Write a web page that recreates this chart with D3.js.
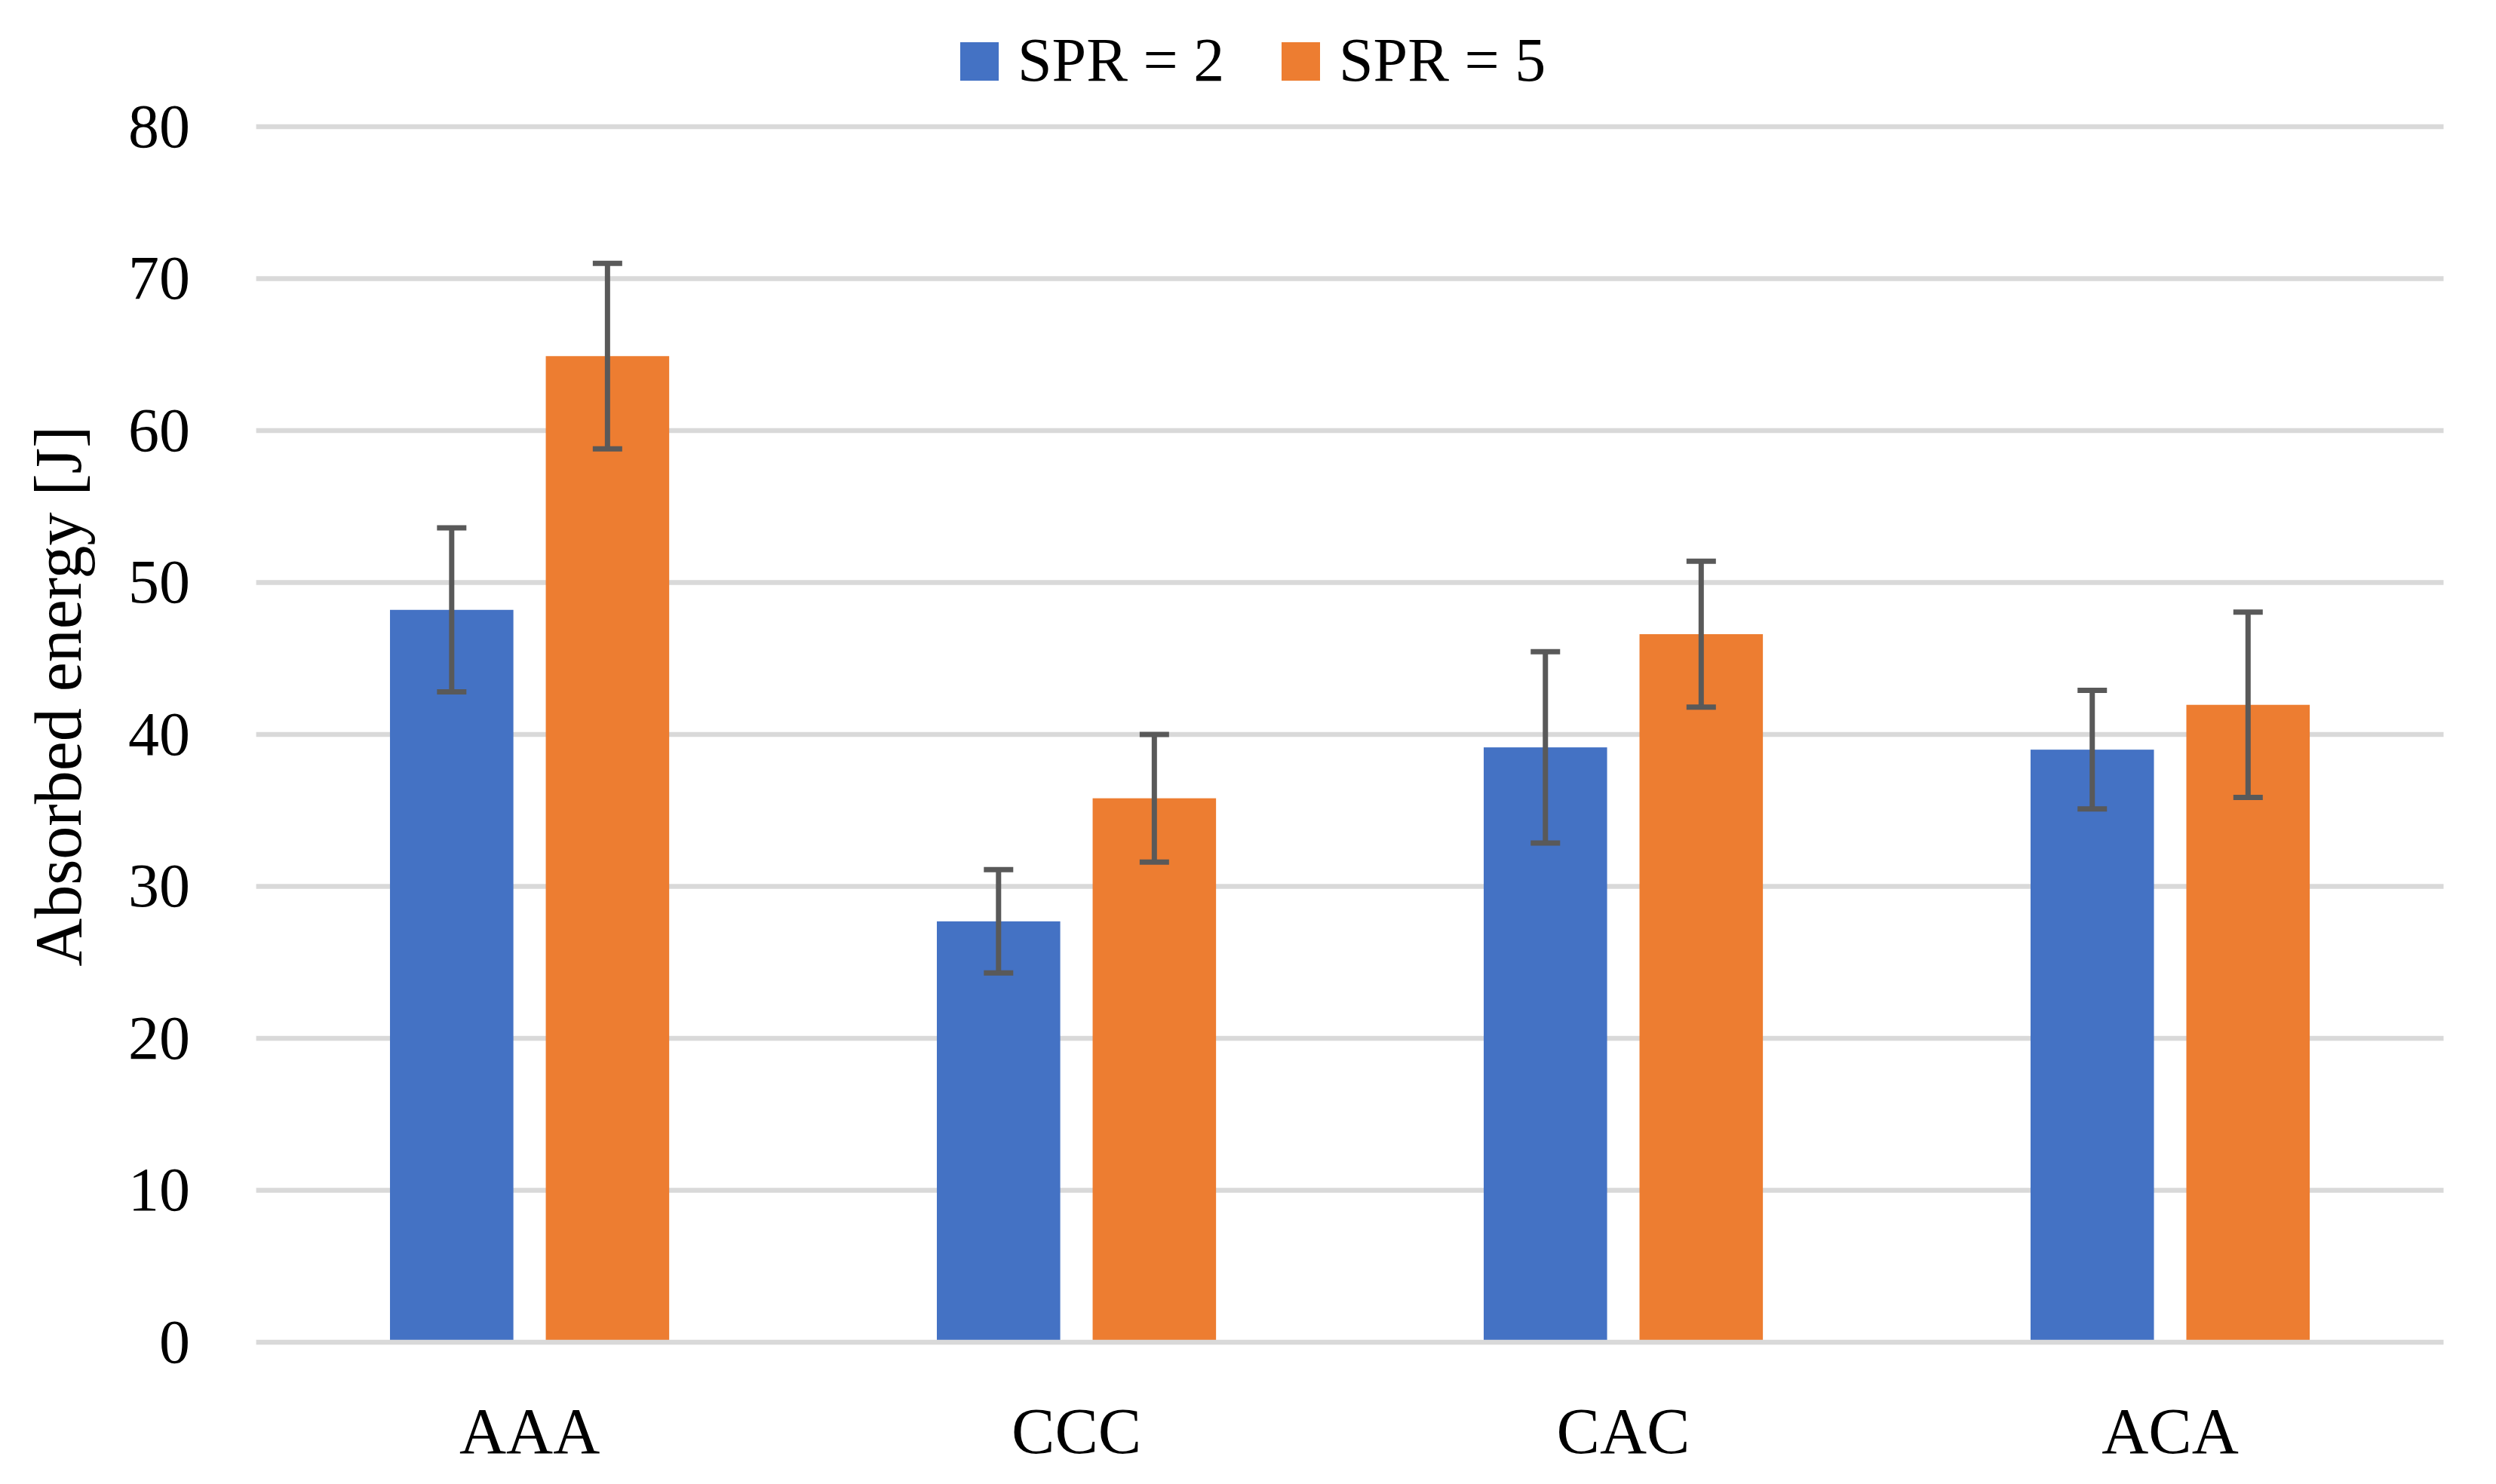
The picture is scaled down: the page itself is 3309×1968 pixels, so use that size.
<!DOCTYPE html>
<html>
<head>
<meta charset="utf-8">
<script src="https://cdn.jsdelivr.net/npm/d3@7"></script>
<style>
  html, body { margin: 0; padding: 0; background: #ffffff; }
  svg { display: block; }
  text { font-family: "Palatino Linotype", "Book Antiqua", Palatino, "Liberation Serif", serif; fill: #000; }
</style>
</head>
<body>
<svg id="chart" width="3309" height="1968"></svg>
<script>
const categories = ["AAA", "CCC", "CAC", "ACA"];
const seriesNames = ["SPR = 2", "SPR = 5"];
const spr2Values = [48.2, 27.7, 39.15, 39.0];
const spr2Errors = [5.4, 3.4, 6.3, 3.9];
const spr5Values = [64.9, 35.8, 46.6, 41.95];
const spr5Errors = [6.1, 4.2, 4.8, 6.1];
const yTicks = [0, 10, 20, 30, 40, 50, 60, 70, 80];
const yTitle = "Absorbed energy [J]";
const colors = ["#4472C4", "#ED7D31"];

(function () {
const W = 3309, H = 1968;
const plotLeft = 339.6, plotRight = 3239.5, plotTop = 168, plotBottom = 1780;
const fontFam = "\"Palatino Linotype\", \"Book Antiqua\", Palatino, \"Liberation Serif\", serif";

const svg = d3.select("#chart");
svg.append("rect").attr("width", W).attr("height", H).attr("fill", "#ffffff");

const y = d3.scaleLinear().domain([0, 80]).range([plotBottom, plotTop]);
const x0 = d3.scaleBand().domain(categories).range([plotLeft, plotRight]).padding(0);
const x1 = d3.scaleBand().domain(seriesNames).range([0, x0.bandwidth()])
  .paddingInner(0.208).paddingOuter(0.859);

const data = categories.map((c, i) => ({
  cat: c,
  vals: [
    { s: seriesNames[0], v: spr2Values[i], e: spr2Errors[i], c: colors[0] },
    { s: seriesNames[1], v: spr5Values[i], e: spr5Errors[i], c: colors[1] }
  ]
}));

// gridlines (non-zero)
svg.append("g").selectAll("line").data(yTicks.filter(t => t !== 0)).join("line")
  .attr("x1", plotLeft).attr("x2", plotRight)
  .attr("y1", d => y(d)).attr("y2", d => y(d))
  .attr("stroke", "#D9D9D9").attr("stroke-width", 6.5);

// bars
const groups = svg.append("g").selectAll("g").data(data).join("g")
  .attr("transform", d => `translate(${x0(d.cat)},0)`);
groups.selectAll("rect").data(d => d.vals).join("rect")
  .attr("x", d => x1(d.s)).attr("width", x1.bandwidth())
  .attr("y", d => y(d.v)).attr("height", d => y(0) - y(d.v))
  .attr("fill", d => d.c);

// zero line
svg.append("line").attr("x1", plotLeft).attr("x2", plotRight)
  .attr("y1", y(0)).attr("y2", y(0))
  .attr("stroke", "#D9D9D9").attr("stroke-width", 6.5);

// error bars
const capW = 39, errStroke = "#595959", errW = 7;
const cx = d => x1(d.s) + x1.bandwidth() / 2;
const eb = groups.selectAll("g.err").data(d => d.vals).join("g").attr("class", "err");
eb.append("line")
  .attr("x1", cx).attr("x2", cx)
  .attr("y1", d => y(d.v + d.e)).attr("y2", d => y(d.v - d.e))
  .attr("stroke", errStroke).attr("stroke-width", errW);
eb.append("line")
  .attr("x1", d => cx(d) - capW / 2).attr("x2", d => cx(d) + capW / 2)
  .attr("y1", d => y(d.v + d.e)).attr("y2", d => y(d.v + d.e))
  .attr("stroke", errStroke).attr("stroke-width", errW);
eb.append("line")
  .attr("x1", d => cx(d) - capW / 2).attr("x2", d => cx(d) + capW / 2)
  .attr("y1", d => y(d.v - d.e)).attr("y2", d => y(d.v - d.e))
  .attr("stroke", errStroke).attr("stroke-width", errW);

// y axis tick labels
const yAxis = d3.axisLeft(y).tickValues(yTicks).tickSize(0).tickPadding(0).tickFormat(d3.format("d"));
const yg = svg.append("g").attr("transform", `translate(252,0)`).call(yAxis);
yg.select(".domain").remove();
yg.selectAll("text")
  .attr("font-size", 82).attr("fill", "#000").attr("font-family", fontFam)
  .attr("dy", null).attr("y", 26).attr("x", 0);

// x axis labels
const xAxis = d3.axisBottom(x0).tickSize(0).tickPadding(0);
const xg = svg.append("g").attr("transform", `translate(0,1927)`).call(xAxis);
xg.select(".domain").remove();
xg.selectAll("text")
  .attr("font-size", 86).attr("fill", "#000").attr("font-family", fontFam)
  .attr("dy", null).attr("y", 0);

// y title
svg.append("text")
  .attr("transform", `translate(107,923) rotate(-90)`)
  .attr("text-anchor", "middle").attr("font-size", 88)
  .text(yTitle);

// legend
const legendX = [1273, 1699];
const leg = svg.append("g").selectAll("g").data(seriesNames).join("g")
  .attr("transform", (d, i) => `translate(${legendX[i]},56)`);
leg.append("rect").attr("width", 51).attr("height", 51).attr("fill", (d, i) => colors[i]);
leg.append("text").attr("x", 76).attr("y", 51).attr("font-size", 82).text(d => d);
})();
</script>
</body>
</html>
